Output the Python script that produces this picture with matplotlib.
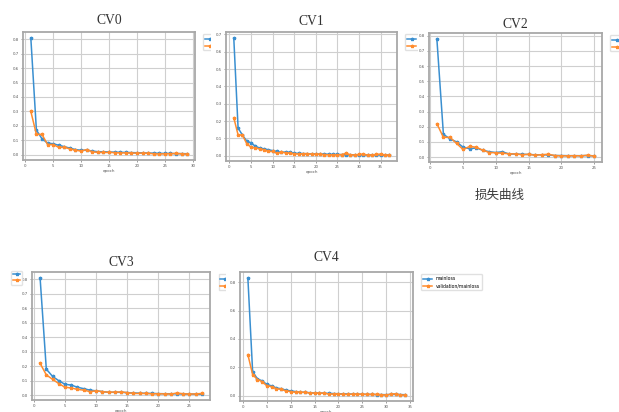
import matplotlib.pyplot as plt
from matplotlib.patches import Rectangle
from matplotlib.lines import Line2D

# loss values, one list per fold
cv0_train = [0.81, 0.17, 0.11, 0.08, 0.075, 0.065, 0.055, 0.045, 0.035, 0.03,
             0.03, 0.025, 0.02, 0.02, 0.018, 0.017, 0.016, 0.015, 0.014, 0.013,
             0.012, 0.011, 0.01, 0.009, 0.008, 0.008, 0.007, 0.007, 0.006]
cv0_val = [0.30, 0.14, 0.14, 0.07, 0.07, 0.05, 0.05, 0.04, 0.03, 0.025,
           0.035, 0.02, 0.015, 0.015, 0.015, 0.014, 0.012, 0.012, 0.011, 0.01,
           0.01, 0.009, 0.006, 0.004, 0.006, 0.007, 0.008, 0.006, 0.003]

cv1_train = [0.68, 0.16, 0.12, 0.085, 0.075, 0.055, 0.045, 0.04, 0.035, 0.03,
             0.025, 0.02, 0.022, 0.02, 0.015, 0.014, 0.013, 0.012, 0.012, 0.011,
             0.01, 0.01, 0.009, 0.008, 0.008, 0.007, 0.006, 0.006, 0.006, 0.006,
             0.005, 0.005, 0.005, 0.005, 0.005, 0.004, 0.004]
cv1_val = [0.22, 0.12, 0.12, 0.07, 0.05, 0.045, 0.04, 0.035, 0.025, 0.025,
           0.015, 0.02, 0.018, 0.015, 0.012, 0.01, 0.012, 0.013, 0.01, 0.008,
           0.009, 0.007, 0.006, 0.005, 0.006, 0.007, 0.015, 0.006, 0.005, 0.008,
           0.01, 0.004, 0.005, 0.008, 0.01, 0.005, 0.004]

cv2_train = [0.78, 0.15, 0.12, 0.10, 0.065, 0.055, 0.06, 0.045, 0.035, 0.03,
             0.035, 0.02, 0.02, 0.018, 0.017, 0.015, 0.015, 0.014, 0.01, 0.01,
             0.009, 0.009, 0.009, 0.01, 0.008]
cv2_val = [0.22, 0.13, 0.13, 0.09, 0.05, 0.07, 0.065, 0.045, 0.03, 0.028,
           0.025, 0.022, 0.02, 0.016, 0.018, 0.012, 0.016, 0.018, 0.01, 0.008,
           0.008, 0.009, 0.008, 0.012, 0.006]

cv3_train = [0.81, 0.18, 0.13, 0.10, 0.075, 0.07, 0.055, 0.045, 0.035, 0.03,
             0.025, 0.02, 0.02, 0.02, 0.018, 0.015, 0.014, 0.013, 0.012, 0.011,
             0.01, 0.01, 0.01, 0.008, 0.008, 0.007, 0.007]
cv3_val = [0.22, 0.14, 0.11, 0.08, 0.055, 0.05, 0.04, 0.035, 0.025, 0.03,
           0.025, 0.02, 0.022, 0.022, 0.018, 0.012, 0.012, 0.012, 0.01, 0.01,
           0.009, 0.008, 0.015, 0.01, 0.008, 0.009, 0.012]

cv4_train = [0.83, 0.17, 0.12, 0.105, 0.08, 0.07, 0.055, 0.05, 0.04, 0.035,
             0.03, 0.025, 0.025, 0.022, 0.02, 0.02, 0.018, 0.017, 0.016, 0.015,
             0.014, 0.013, 0.012, 0.012, 0.011, 0.01, 0.01, 0.009, 0.009, 0.008,
             0.01, 0.01, 0.009, 0.008]
cv4_val = [0.29, 0.15, 0.115, 0.10, 0.07, 0.065, 0.05, 0.045, 0.035, 0.03,
           0.025, 0.025, 0.025, 0.02, 0.02, 0.018, 0.02, 0.012, 0.013, 0.015,
           0.01, 0.01, 0.012, 0.01, 0.012, 0.01, 0.01, 0.01, 0.008, 0.006,
           0.012, 0.015, 0.006, 0.005]

titles = ['CV0', 'CV1', 'CV2', 'CV3', 'CV4']
labels = ['mainloss', 'validation/mainloss']
caption = '损失曲线'

W, H = 619, 412
BLUE, ORANGE = '#3a8fd0', '#ff8c2e'

# each screenshot: axes box in pixels (left, top, right, bottom), title pad, y tick step
# and the white area of the screenshot that hides the one below it
panels = [
    dict(box=(23, 32, 195, 160), pad=6, step=0.1, cover=None),
    dict(box=(226, 32, 397, 161), pad=5, step=0.1, cover=(211, 0, 405, 182)),
    dict(box=(429, 33, 602, 162), pad=3.5, step=0.1, cover=(418, 0, 619, 185)),
    dict(box=(32, 272, 210, 400), pad=4.5, step=0.1, cover=None),
    dict(box=(240, 272, 413, 401), pad=8, step=0.2, cover=(226, 240, 619, 412)),
]
series = [(cv0_train, cv0_val), (cv1_train, cv1_val), (cv2_train, cv2_val),
          (cv3_train, cv3_val), (cv4_train, cv4_val)]

fig = plt.figure(figsize=(W / 100, H / 100), dpi=100)


def frac(l, t, r, b):
    return [l / W, (H - b) / H, (r - l) / W, (b - t) / H]


for i, (p, (tr, va)) in enumerate(zip(panels, series)):
    if p['cover'] is not None:
        cl, ct, cr, cb = p['cover']
        fig.add_artist(Rectangle((cl / W, (H - cb) / H), (cr - cl) / W, (cb - ct) / H,
                                 transform=fig.transFigure, fc='white', ec='none',
                                 zorder=i - 0.5))
    ax = fig.add_axes(frac(*p['box']), zorder=i)
    ep = list(range(1, len(tr) + 1))
    ax.plot(ep, tr, color=BLUE, lw=1.1, marker='*', ms=2.4, label=labels[0])
    ax.plot(ep, va, color=ORANGE, lw=1.1, marker='*', ms=2.4, label=labels[1])
    ax.set_title(titles[i], family='Liberation Serif', fontsize=9.8, color='#333333',
                 pad=p['pad'])
    top = max(tr) * 1.05
    ax.set_yticks([k * p['step'] for k in range(int(top / p['step'] + 1e-9) + 1)])
    ax.set_xticks(range(0, len(tr) + 5, 5))
    ax.margins(x=0.05, y=0.05)
    ax.tick_params(labelsize=2.8, length=1.5, width=0.4, pad=1.2, colors='#555555')
    ax.set_xlabel('epoch', fontsize=2.9, labelpad=1, color='#555555')
    ax.grid(True, color='#cfcfcf', lw=0.8)
    for s in ax.spines.values():
        s.set_color('#a8a8a8')
        s.set_linewidth(1.3)
    ax.legend(loc='upper left', bbox_to_anchor=(1.035, 1.0), fontsize=3.3,
              handlelength=2, borderpad=0.4, framealpha=0.9, edgecolor='#dddddd')

# stray legend piece left of CV3
fig.legend(handles=[Line2D([], [], color=BLUE, lw=1.1, marker='*', ms=2.4),
                    Line2D([], [], color=ORANGE, lw=1.1, marker='*', ms=2.4)],
           labels=['', ''], loc='upper left', bbox_to_anchor=(9 / W, (H - 269) / H),
           fontsize=3, handlelength=1.8, handletextpad=0, borderpad=0.4,
           edgecolor='#dddddd')

fig.text(500 / W, (H - 195) / H, caption, family=['Noto Sans CJK SC', 'DejaVu Sans'],
         fontsize=9, color='#3a3a3a', ha='center', va='center', zorder=10)

fig.savefig('out.png', dpi=100)
